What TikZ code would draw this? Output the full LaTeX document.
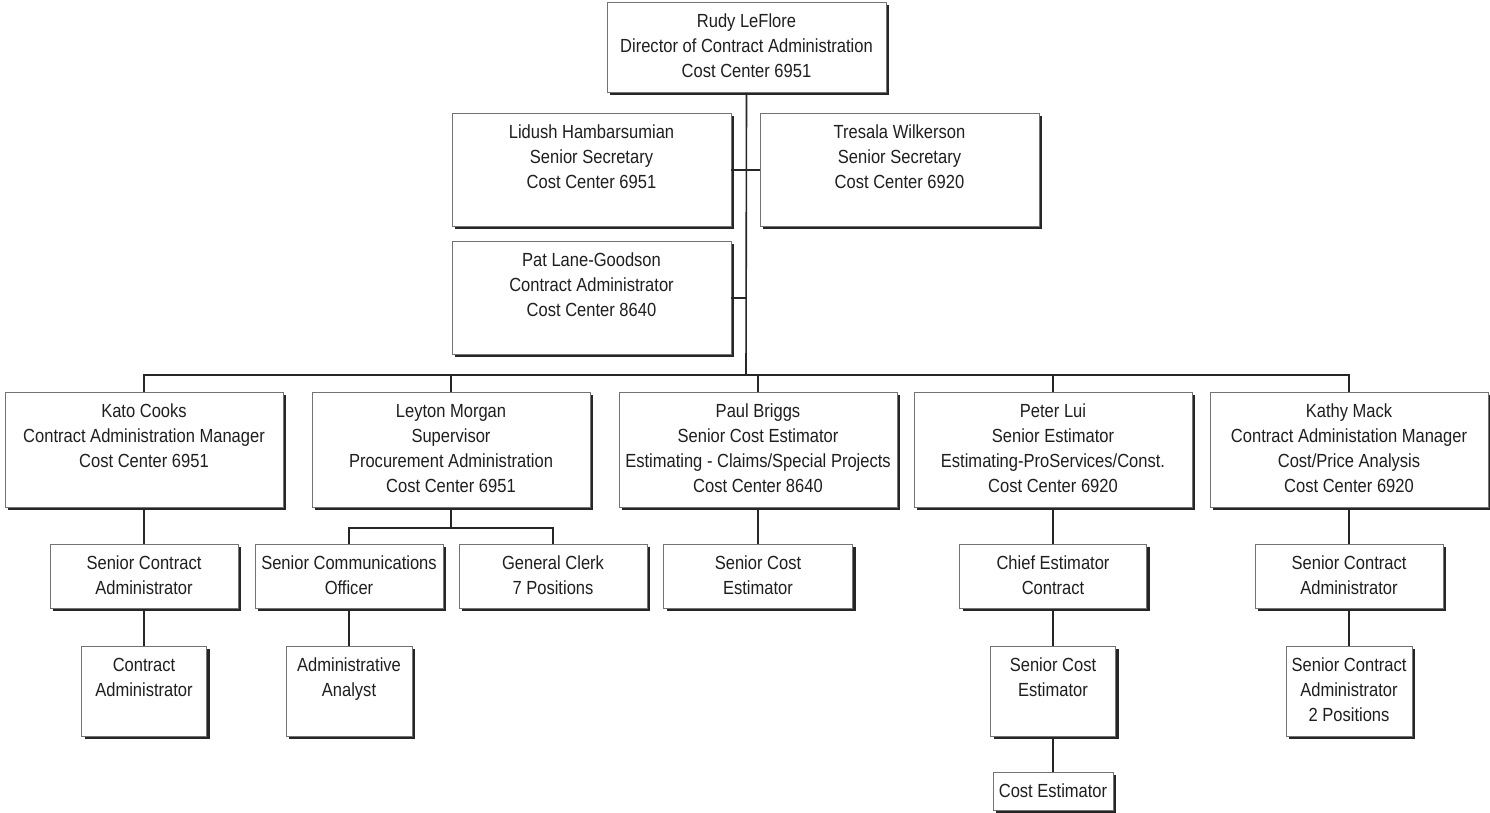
\documentclass[tikz,border=0pt]{standalone}
\usepackage{fontspec}
\setmainfont{Liberation Sans}[FakeStretch=0.87]
\usetikzlibrary{shadows}
\tikzset{
  box/.style={draw=black!55, line width=0.8pt, fill=white, inner sep=0pt,
    drop shadow={shadow xshift=3pt, shadow yshift=-3pt, fill=black!85, opacity=1}},
  txt/.style={align=center, inner sep=0pt, text=black!88, font=\fontsize{19}{25}\selectfont},
  conn/.style={draw=black!85, line width=1.6pt}
}
\newcommand\orgbox[6]{%
  \node[box, minimum width=#4pt, minimum height=#5pt, anchor=north] (#1) at (#2,#3) {};
  \node[txt, anchor=north] (#1-t) at (#2,#3+12) {#6};}
\begin{document}
\begin{tikzpicture}[x=1pt,y=-1pt]
\useasboundingbox (0,0) rectangle (1490,813);
\fill[white] (0,0) rectangle (1490,813);
\coordinate (busy) at (746,375);
\orgbox{rudy}{746.5}{2}{279}{90}{Rudy LeFlore\\Director of Contract Administration\\Cost Center 6951}
\orgbox{lidush}{591.5}{113}{279}{113}{Lidush Hambarsumian\\Senior Secretary\\Cost Center 6951}
\orgbox{tresala}{899.5}{113}{279}{113}{Tresala Wilkerson\\Senior Secretary\\Cost Center 6920}
\orgbox{pat}{591.5}{241}{279}{113}{Pat Lane-Goodson\\Contract Administrator\\Cost Center 8640}
\orgbox{kato}{144}{392}{278}{115}{Kato Cooks\\Contract Administration Manager\\Cost Center 6951}
\orgbox{leyton}{451}{392}{278}{115}{Leyton Morgan\\Supervisor\\Procurement Administration\\Cost Center 6951}
\orgbox{paul}{758}{392}{278}{115}{Paul Briggs\\Senior Cost Estimator\\Estimating - Claims/Special Projects\\Cost Center 8640}
\orgbox{peter}{1053}{392}{278}{115}{Peter Lui\\Senior Estimator\\Estimating-ProServices/Const.\\Cost Center 6920}
\orgbox{kathy}{1349}{392}{278}{115}{Kathy Mack\\Contract Administation Manager\\Cost/Price Analysis\\Cost Center 6920}
\orgbox{sca1}{144}{544}{188}{64}{Senior Contract\\Administrator}
\orgbox{sco}{349}{544}{188}{64}{Senior Communications\\Officer}
\orgbox{gc}{553}{544}{188}{64}{General Clerk\\7 Positions}
\orgbox{sce1}{758}{544}{189}{64}{Senior Cost\\Estimator}
\orgbox{chief}{1053}{544}{187}{64}{Chief Estimator\\Contract}
\orgbox{sca2}{1349}{544}{188}{64}{Senior Contract\\Administrator}
\orgbox{ca1}{144}{646}{125}{90}{Contract\\Administrator}
\orgbox{aa}{349}{646}{126}{90}{Administrative\\Analyst}
\orgbox{sce2}{1053}{646}{125}{90}{Senior Cost\\Estimator}
\orgbox{sca3}{1349}{646}{126}{90}{Senior Contract\\Administrator\\2 Positions}
\orgbox{ce}{1053}{772}{120}{38}{Cost Estimator}
% connectors
\draw[conn] (rudy.south) -- (busy);
\draw[conn] (lidush.east) -- (tresala.west);
\draw[conn] (pat.east) -- (pat.east -| rudy.south);
\draw[conn] (kato.north) |- (busy) -| (kathy.north);
\draw[conn] (leyton.north) -- (leyton.north |- busy);
\draw[conn] (paul.north) -- (paul.north |- busy);
\draw[conn] (peter.north) -- (peter.north |- busy);
\draw[conn] (kato.south) -- (sca1.north);
\draw[conn] (sca1.south) -- (ca1.north);
\draw[conn] (leyton.south) -- ++(0,20) coordinate (lj);
\draw[conn] (sco.north) |- (lj) -| (gc.north);
\draw[conn] (sco.south) -- (aa.north);
\draw[conn] (paul.south) -- (sce1.north);
\draw[conn] (peter.south) -- (chief.north);
\draw[conn] (chief.south) -- (sce2.north);
\draw[conn] (sce2.south) -- (ce.north);
\draw[conn] (kathy.south) -- (sca2.north);
\draw[conn] (sca2.south) -- (sca3.north);
\end{tikzpicture}
\end{document}
